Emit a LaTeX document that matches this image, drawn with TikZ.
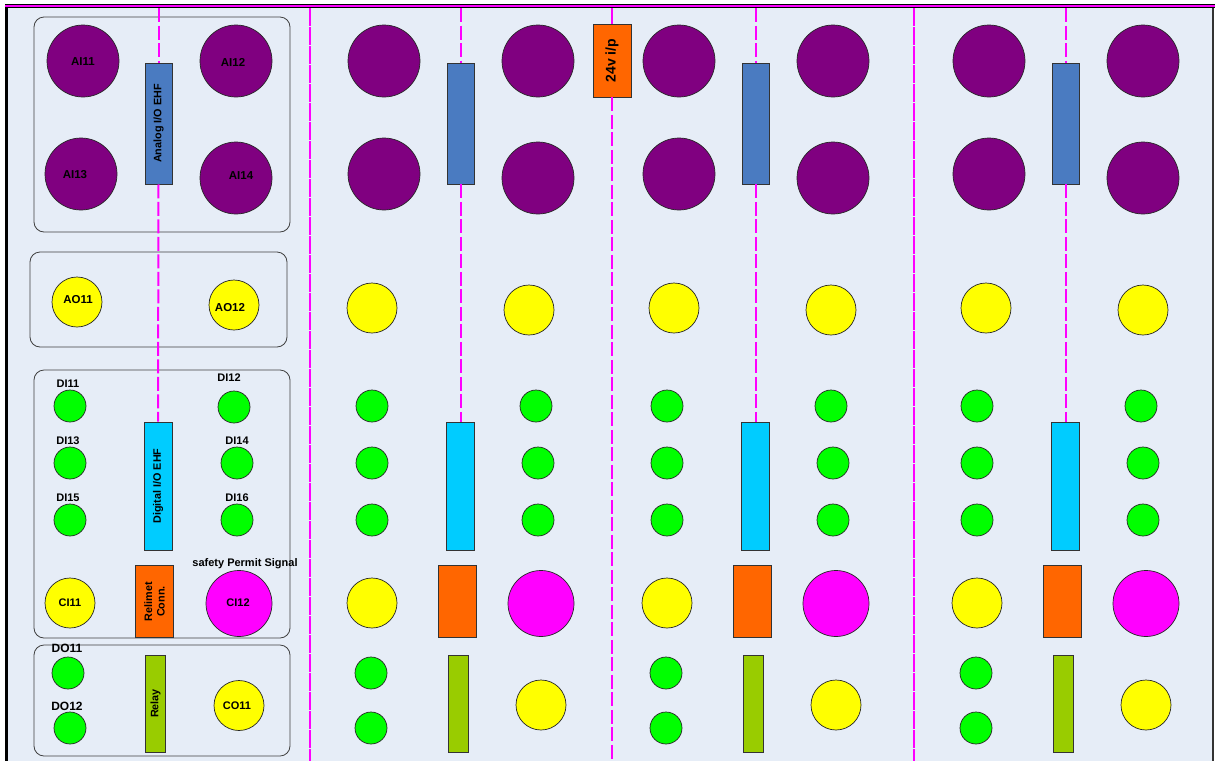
\documentclass[tikz,border=0pt]{standalone}
\usepackage{fontspec}
\setmainfont{Liberation Sans}
\definecolor{pur}{HTML}{800080}
\definecolor{yel}{HTML}{FFFF00}
\definecolor{grn}{HTML}{00FF00}
\definecolor{mag}{HTML}{FF00FF}
\definecolor{org}{HTML}{FF6600}
\definecolor{cyn}{HTML}{00CCFF}
\definecolor{blu}{HTML}{4A7BC1}
\definecolor{olv}{HTML}{99CC00}
\definecolor{bgb}{HTML}{E6EDF7}
\begin{document}
\begin{tikzpicture}[x=1pt,y=-1pt,
  circ/.style={circle, draw=black!85, line width=0.7pt, inner sep=0pt, minimum size=#1},
  pc/.style={circ=72pt, fill=pur},
  yc/.style={circ=50pt, fill=yel},
  gc/.style={circ=32pt, fill=grn},
  mc/.style={circ=66pt, fill=mag},
  bar/.style={draw=black!80, line width=0.7pt, inner sep=0pt, rotate=90, align=center,
    font=\fontsize{10.8}{12.5}\selectfont\bfseries},
  bluebar/.style={bar, fill=blu, minimum width=121pt, minimum height=27pt},
  cyanbar/.style={bar, fill=cyn, minimum width=128pt, minimum height=28pt},
  orgbar/.style={bar, fill=org, minimum width=72pt, minimum height=38pt},
  olvbar/.style={bar, fill=olv, minimum width=97pt, minimum height=20pt},
  panel/.style={draw=black!75, line width=0.8pt, rounded corners=10pt},
  lbl/.style={inner sep=0pt, font=\fontsize{11.5}{13}\selectfont\bfseries},
  slbl/.style={inner sep=0pt, font=\fontsize{11}{12}\selectfont\bfseries},
  dlbl/.style={inner sep=0pt, font=\fontsize{12}{14}\selectfont\bfseries},
  wire/.style={draw=mag, line width=2pt, dash pattern=on 14pt off 3.5pt},
  fine/.style={draw=mag, line width=2pt, dash pattern=on 18pt off 1pt},
  solidwire/.style={draw=mag, line width=2pt}
]
\useasboundingbox (0,0) rectangle (1216,761);
\fill[white] (0,0) rectangle (1216,761);
\fill[bgb] (7,6) rectangle (1213,761);
\draw[black!80, line width=1.2pt] (1213,6) -- (1213,761);
\draw[black, line width=3pt] (6.5,4) -- (6.5,761);
\draw[black, line width=4pt] (5,5.8) -- (1214.5,5.8);
\draw[mag, line width=2pt] (5,5.8) -- (1214.5,5.8);

% left panels
\draw[panel] (34,17) rectangle (290,232);
\draw[panel] (30,252) rectangle (287,347);
\draw[panel] (34,370) rectangle (290,638);
\draw[panel] (34,645) rectangle (290,756);

% full-height separators
\coordinate (s1t) at (310,8);   \coordinate (s1b) at (310,761);
\coordinate (s2t) at (914,8);   \coordinate (s2b) at (914,761);
\draw[fine] (s1t) -- (s1b);
\draw[fine] (s2t) -- (s2b);

% left column
\node[bluebar] (ana) at (158.5,123.5) {Analog I/O EHF};
\node[cyanbar] (dig) at (158,486) {Digital I/O EHF};
\coordinate (lt) at (158.5,8);
\draw[wire] (lt) -- (ana.east);
\draw[wire] (ana.west) -- (dig.east);

\node[pc] (AI11) at (83,61) {};
\node[pc] (AI12) at (236,61) {};
\node[pc] (AI13) at (81,174) {};
\node[pc] (AI14) at (236,178) {};
\node[lbl] (tAI11) at (83,62) {AI11};
\node[lbl] (tAI12) at (233,62) {AI12};
\node[lbl] (tAI13) at (75,175) {AI13};
\node[lbl] (tAI14) at (241,176) {AI14};

\node[yc] (AO11) at (77,302) {};
\node[yc] (AO12) at (234,305) {};
\node[lbl] (tAO11) at (78,299.5) {AO11};
\node[lbl] (tAO12) at (230,308) {AO12};

\node[gc] (DI11) at (70,406) {};
\node[gc] (DI12) at (234,407) {};
\node[gc] (DI13) at (70,463) {};
\node[gc] (DI14) at (237,463) {};
\node[gc] (DI15) at (70,520) {};
\node[gc] (DI16) at (237,520) {};
\node[slbl] (tDI11) at (68,384) {DI11};
\node[slbl] (tDI12) at (229,378) {DI12};
\node[slbl] (tDI13) at (68,441) {DI13};
\node[slbl] (tDI14) at (237,441) {DI14};
\node[slbl] (tDI15) at (68,498) {DI15};
\node[slbl] (tDI16) at (237,498) {DI16};

\node[yc] (CI11) at (70,603) {};
\node[slbl] (tCI11) at (70,603) {CI11};
\node[orgbar] (rel) at (154.5,601.5) {Relimet\\Conn.};
\node[mc] (CI12) at (239,603.5) {};
\node[slbl] (tCI12) at (238,603) {CI12};
\node[slbl] (tsps) at (245,563.5) {safety Permit Signal};

\node[gc] (DO11) at (68,673) {};
\node[gc] (DO12) at (70,728) {};
\node[dlbl] (tDO11) at (67,648.5) {DO11};
\node[dlbl] (tDO12) at (67,706) {DO12};
\node[olvbar] (relay) at (155.5,703.5) {Relay};
\node[yc] (CO11) at (239,705.5) {};
\node[slbl] (tCO11) at (237,706) {CO11};

% 24v input
\node[bar, fill=org, minimum width=73pt, minimum height=38pt,
  font=\fontsize{14}{16}\selectfont\bfseries] (pwr) at (612,60.5) {24v i/p};
\coordinate (pt) at (612,8);
\coordinate (pb) at (612,761);
\draw[solidwire] (pt) -- (pwr.east);
\draw[wire] (pwr.west) -- (pb);

% repeated columns
\foreach \c/\s/\a in {A/0/0, B/295/302, C/605/614} {
  \node[pc] (p1\c) at (384+\s,61) {};
  \node[pc] (p2\c) at (538+\s,61) {};
  \node[pc] (p3\c) at (384+\s,174) {};
  \node[pc] (p4\c) at (538+\s,178) {};
  \node[bluebar] (b\c) at (460.5+\s,123.5) {};
  \node[yc] (ao1\c) at (372+\a,308) {};
  \node[yc] (ao2\c) at (529+\a,310) {};
  \node[gc] (d1\c) at (372+\s,406) {};
  \node[gc] (d2\c) at (536+\s,406) {};
  \node[gc] (d3\c) at (372+\s,463) {};
  \node[gc] (d4\c) at (538+\s,463) {};
  \node[gc] (d5\c) at (372+\s,520) {};
  \node[gc] (d6\c) at (538+\s,520) {};
  \node[cyanbar] (cy\c) at (460.5+\s,486) {};
  \node[yc] (ci\c) at (372+\s,603) {};
  \node[orgbar] (o\c) at (457+\s,601.5) {};
  \node[mc] (m\c) at (541+\s,603.5) {};
  \node[gc] (do1\c) at (371+\s,673) {};
  \node[gc] (do2\c) at (371+\s,728) {};
  \node[olvbar] (r\c) at (458+\s,703.5) {};
  \node[yc] (co\c) at (541+\s,705) {};
  \coordinate (t\c) at (460.5+\s,8);
  \draw[wire] (t\c) -- (b\c.east);
  \draw[wire] (b\c.west) -- (cy\c.east);
}
\end{tikzpicture}
\end{document}
